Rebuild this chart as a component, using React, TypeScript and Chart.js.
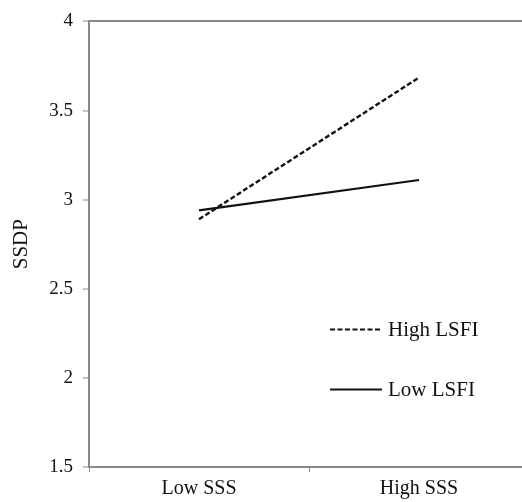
import React, { useEffect, useRef } from "react";
import { Chart, registerables } from "chart.js";

Chart.register(...registerables);

const categories = ["Low SSS", "High SSS"];
const highLSFI = [2.89, 3.685];
const lowLSFI = [2.94, 3.11];
const seriesNames = ["High LSFI", "Low LSFI"];
const yMin = 1.5;
const yMax = 4;
const yStep = 0.5;
const yTitle = "SSDP";

const AXIS = "#898989";
const FONT = "'Liberation Serif', 'Times New Roman', serif";

const legendPlugin = {
  id: "insideLegend",
  afterDraw(chart: any) {
    const { ctx, chartArea } = chart;
    const items = [
      { label: seriesNames[0], dash: [5, 2.5], y: chartArea.top + 308 },
      { label: seriesNames[1], dash: [], y: chartArea.top + 368 },
    ];
    ctx.save();
    for (const it of items) {
      ctx.beginPath();
      ctx.setLineDash(it.dash);
      ctx.lineWidth = 2;
      ctx.strokeStyle = "#111";
      ctx.moveTo(chartArea.left + 241, it.y);
      ctx.lineTo(chartArea.left + 293, it.y);
      ctx.stroke();
      ctx.setLineDash([]);
      ctx.fillStyle = "#111";
      ctx.font = `21px ${FONT}`;
      ctx.textBaseline = "middle";
      ctx.textAlign = "left";
      ctx.fillText(it.label, chartArea.left + 299, it.y + 1);
    }
    ctx.restore();
  },
};

export default function App() {
  const ref = useRef<HTMLCanvasElement>(null);
  useEffect(() => {
    if (!ref.current) return;
    const chart = new Chart(ref.current, {
      type: "line",
      data: {
        labels: categories,
        datasets: [
          {
            label: seriesNames[0],
            data: highLSFI,
            borderColor: "#111",
            borderWidth: 2.4,
            borderDash: [5, 2.5],
            pointRadius: 0,
            tension: 0,
            fill: false,
          },
          {
            label: seriesNames[1],
            data: lowLSFI,
            borderColor: "#111",
            borderWidth: 2.2,
            pointRadius: 0,
            tension: 0,
            fill: false,
          },
        ],
      },
      options: {
        responsive: false,
        animation: false,
        layout: { padding: { top: 20, right: 11, left: 0, bottom: 0 } },
        plugins: {
          legend: { display: false },
          tooltip: { enabled: false },
        },
        scales: {
          x: {
            type: "category",
            offset: true,
            grid: {
              offset: true,
              drawOnChartArea: false,
              tickColor: AXIS,
              tickLength: 5,
              tickWidth: 1,
            },
            border: { color: AXIS, width: 2 },
            ticks: {
              color: "#111",
              font: { family: FONT, size: 20 },
              padding: 5,
            },
            afterFit(scale: any) {
              scale.height = 35;
            },
          },
          y: {
            min: yMin,
            max: yMax,
            ticks: {
              stepSize: yStep,
              color: "#111",
              font: { family: FONT, size: 19 },
              padding: 10,
              callback: (v: any) => String(v),
            },
            grid: {
              color: (c: any) => (c.tick && c.tick.value === yMax ? AXIS : "transparent"),
              lineWidth: 2,
              tickColor: AXIS,
              tickLength: 6,
              tickWidth: 1,
            },
            border: { color: AXIS, width: 2 },
            title: {
              display: true,
              text: yTitle,
              color: "#111",
              font: { family: FONT, size: 21 },
              padding: { top: 9, bottom: 0 },
            },
            afterFit(scale: any) {
              scale.width = 89;
            },
          },
        },
      },
      plugins: [legendPlugin],
    } as any);
    return () => chart.destroy();
  }, []);
  return (
    <div
      style={{
        position: "fixed",
        left: 0,
        top: 0,
        width: 522,
        height: 502,
        overflow: "hidden",
        background: "#fff",
      }}
    >
      <canvas ref={ref} width={540} height={502} style={{ display: "block" }} />
    </div>
  );
}
